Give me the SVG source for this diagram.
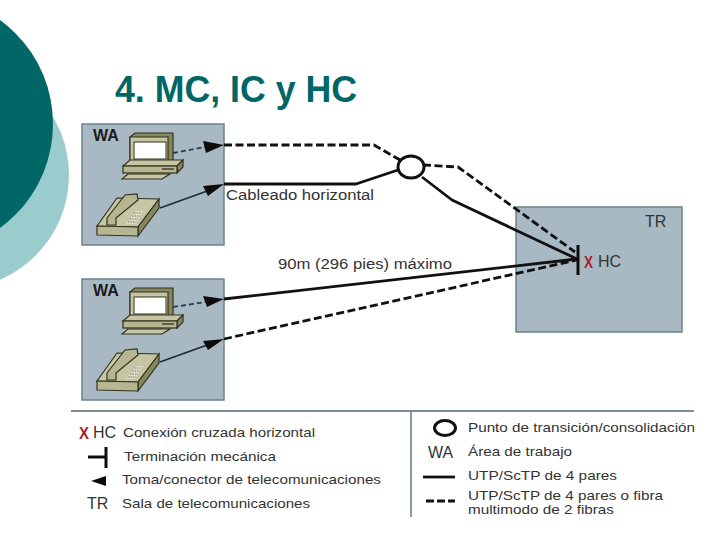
<svg xmlns="http://www.w3.org/2000/svg" xmlns:xlink="http://www.w3.org/1999/xlink" width="720" height="540" viewBox="0 0 720 540">
<style>
text{font-family:"Liberation Sans",Arial,sans-serif;fill:#333}
.title{font-size:36px;font-weight:bold;fill:#006666}
.box{fill:#a9b9c4;stroke:#6e828e;stroke-width:1.5}
.wa{font-size:16px;font-weight:bold;fill:#1c1c1c}
.lab{font-size:14px}
.leg{font-size:13.5px}
.sym{font-size:16px}
.x{font-size:17px;font-weight:bold;fill:#a8202c}
.s{fill:none;stroke:#111;stroke-width:2.8;stroke-linejoin:round}
.d{fill:none;stroke:#111;stroke-width:2.8;stroke-dasharray:8 3.5;stroke-linejoin:round}
.ts{fill:none;stroke:#1c2c3c;stroke-width:1.8}
.td{fill:none;stroke:#2c3c4c;stroke-width:1.8;stroke-dasharray:5 3}
.hd{fill:#0c0c0c}
.ring{fill:#fff;stroke:#111;stroke-width:3}
.rule{stroke:#7d8f95;stroke-width:1.8;fill:none}
.bar{stroke:#0c0c0c;stroke-width:3;fill:none}
.t{fill:#c6c6a4;stroke:#33331f;stroke-width:1.2}
.f{fill:#b6b690;stroke:#33331f;stroke-width:1.2}
.k{fill:#86865f;stroke:#33331f;stroke-width:1.2}
</style>
<defs>
<g id="pc">
<polygon class="k" points="130,137 135,133 173,133 173,160 168,163 130,162"/>
<polygon class="t" points="130,137 168,137 168,163 130,162"/>
<rect x="134" y="142" width="32" height="17" fill="#fff" stroke="#33331f"/>
<polygon class="t" points="123,166 130,160 183,160 177,166"/>
<polygon class="k" points="177,166 183,160 183,167 177,173"/>
<rect class="f" x="123" y="166" width="54" height="7"/>
<path d="M162 169H174" stroke="#222" stroke-width="1.2"/>
<polygon class="t" points="122,179 128,174 170,174 162,179"/>
</g>
<g id="phone">
<polygon class="t" points="97,226 117,198 159,199 138,227"/>
<polygon class="k" points="138,227 159,199 159,208 138,236"/>
<polygon class="f" points="97,226 138,227 138,236 97,235"/>
<polygon points="126,224 136,211 143,211 135,224" fill="#dcdcc8"/>
<path d="M128 222H136M130 219H138M132 216H140M134 213H141" stroke="#7c7c62" stroke-width="1" stroke-dasharray="1.5 1"/>
<polygon class="f" points="107,218 125,195 137,194 138,200 116,218 116,225 107,225"/>
</g>
</defs>
<rect width="720" height="540" fill="#fff"/>
<g id="decor">
<circle cx="-45" cy="175" r="114" fill="#9accce"/>
<circle cx="-75.5" cy="124" r="128.5" fill="#006666"/>
</g>
<text id="title" class="title" x="115" y="102" textLength="242" lengthAdjust="spacingAndGlyphs">4. MC, IC y HC</text>
<g id="wa1">
<rect class="box" x="82" y="124" width="142" height="121"/>
<text class="wa" x="93" y="141">WA</text>
<use xlink:href="#pc" href="#pc"/>
<use xlink:href="#phone" href="#phone"/>
</g>
<g id="wa2">
<rect class="box" x="82" y="279" width="142" height="121"/>
<text class="wa" x="93" y="296">WA</text>
<use xlink:href="#pc" href="#pc" y="155"/>
<use xlink:href="#phone" href="#phone" y="155"/>
</g>
<g id="tr">
<rect class="box" x="516" y="207" width="166" height="125"/>
<text class="sym" x="645" y="227">TR</text>
</g>
<g id="connectors">
<path class="d" d="M224 145H374L400 160"/>
<path class="s" d="M224 184H356L398 170"/>
<path class="d" d="M423 165L458 167L575 252"/>
<path class="s" d="M422 177L452 200L577 259"/>
<path class="s" d="M224 299L577 259"/>
<path class="d" d="M224 339L577 260"/>
<path class="td" d="M173 153L205 147"/>
<path class="ts" d="M160 208L210 190"/>
<path class="td" d="M173 307L205 302"/>
<path class="ts" d="M160 362L210 344"/>
<polygon class="hd" points="224,145 203,141 206,153"/>
<polygon class="hd" points="224,184 203,186 208,196"/>
<polygon class="hd" points="224,299 203,296 207,307"/>
<polygon class="hd" points="224,339 203,341 208,350"/>
</g>
<g id="consolidation"><ellipse class="ring" cx="411" cy="167" rx="13" ry="11"/></g>
<g id="hc">
<path class="bar" d="M578 245V275"/>
<text class="x" x="584" y="268" textLength="9" lengthAdjust="spacingAndGlyphs">X</text>
<text class="sym" x="598" y="267">HC</text>
</g>
<text class="lab" x="226" y="200" textLength="148" lengthAdjust="spacingAndGlyphs">Cableado horizontal</text>
<text class="lab" x="278" y="269" textLength="174" lengthAdjust="spacingAndGlyphs">90m (296 pies) máximo</text>
<g id="legend">
<path class="rule" d="M71 411H694M411 411V517"/>
<text class="x" x="79" y="439" textLength="10" lengthAdjust="spacingAndGlyphs">X</text>
<text class="sym" x="93" y="438">HC</text>
<text class="leg" x="123" y="437" textLength="192" lengthAdjust="spacingAndGlyphs">Conexión cruzada horizontal</text>
<path class="bar" d="M88 457H106M106 447V468"/>
<text class="leg" x="124" y="461" textLength="152" lengthAdjust="spacingAndGlyphs">Terminación mecánica</text>
<polygon class="hd" points="91,481 106,476 106,486"/>
<text class="leg" x="122" y="484" textLength="259" lengthAdjust="spacingAndGlyphs">Toma/conector de telecomunicaciones</text>
<text class="sym" x="87" y="509">TR</text>
<text class="leg" x="122" y="508" textLength="188" lengthAdjust="spacingAndGlyphs">Sala de telecomunicaciones</text>
<ellipse cx="445" cy="428" rx="10.5" ry="7.5" fill="#fff" stroke="#111" stroke-width="3"/>
<text class="leg" x="468" y="432" textLength="227" lengthAdjust="spacingAndGlyphs">Punto de transición/consolidación</text>
<text class="sym" x="428" y="458">WA</text>
<text class="leg" x="468" y="456" textLength="104" lengthAdjust="spacingAndGlyphs">Área de trabajo</text>
<path class="s" d="M423 477H455"/>
<text class="leg" x="468" y="480" textLength="149" lengthAdjust="spacingAndGlyphs">UTP/ScTP de 4 pares</text>
<path class="s" d="M426 501H455" stroke-dasharray="8 3"/>
<text class="leg" x="468" y="500" textLength="195" lengthAdjust="spacingAndGlyphs">UTP/ScTP de 4 pares o fibra</text>
<text class="leg" x="468" y="514" textLength="146" lengthAdjust="spacingAndGlyphs">multimodo de 2 fibras</text>
</g>
</svg>
